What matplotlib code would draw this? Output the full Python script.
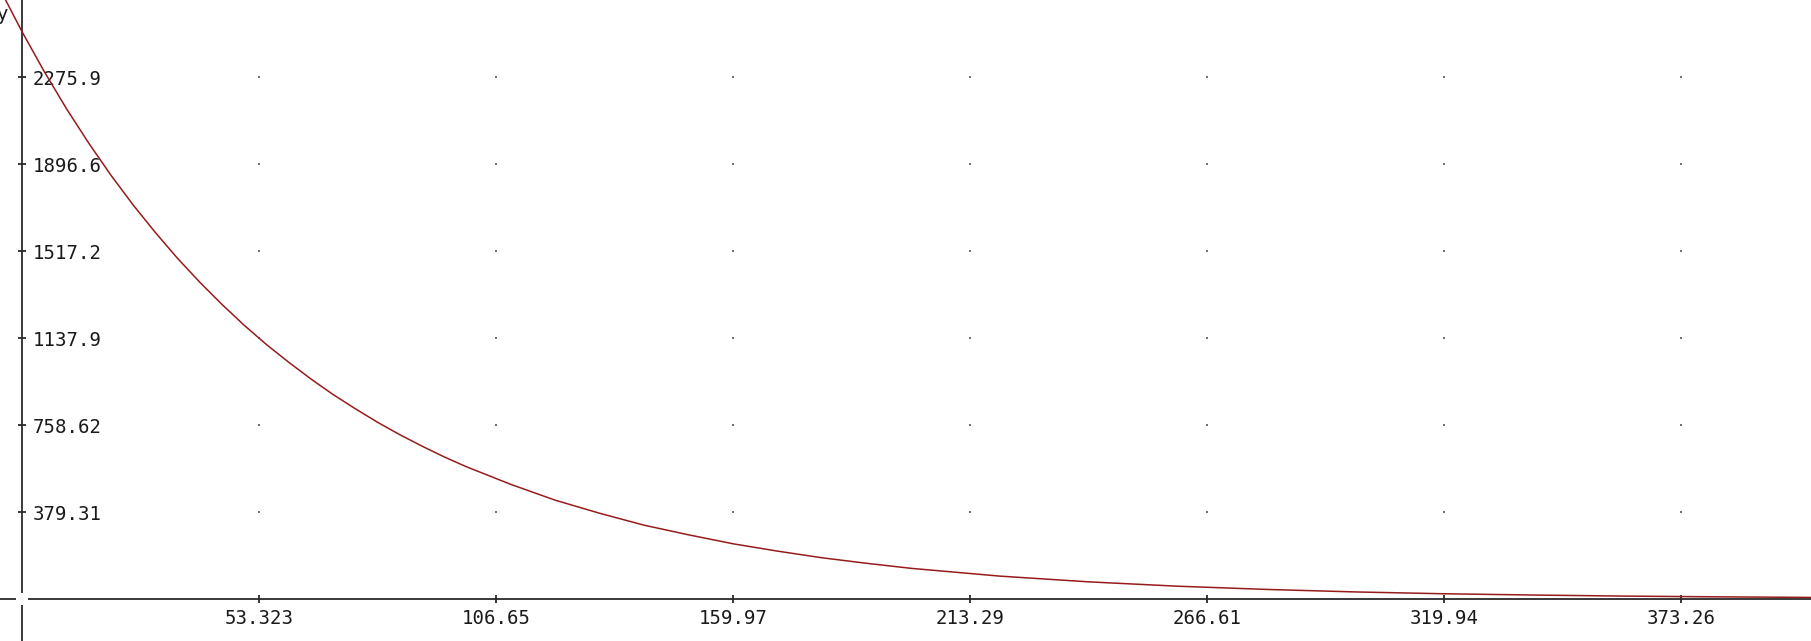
import numpy as np
import matplotlib
matplotlib.use("Agg")
import matplotlib.pyplot as plt

# Curve samples
x_vals = [-5, 0, 5, 10, 15, 20, 25, 30, 35, 40, 45, 50, 55, 60, 65, 70, 75, 80, 85, 90,
          95, 100, 110, 120, 130, 140, 150, 160, 170, 180, 190, 200, 220, 240, 260, 280,
          300, 320, 340, 360, 380, 403]
y_vals = [2662, 2475, 2301, 2139, 1989, 1849, 1719, 1599, 1486, 1382, 1285, 1194, 1110,
          1033, 960, 892, 830, 771, 717, 667, 620, 577, 500, 431, 374, 322, 280, 241, 209,
          180, 156, 134, 100, 75, 56, 42, 31, 23, 17.5, 13, 9.8, 7]

x_ticks = [53.323, 106.65, 159.97, 213.29, 266.61, 319.94, 373.26]
x_labels = ["53.323", "106.65", "159.97", "213.29", "266.61", "319.94", "373.26"]
y_ticks = [379.31, 758.62, 1137.9, 1517.2, 1896.6, 2275.9]
y_labels = ["379.31", "758.62", "1137.9", "1517.2", "1896.6", "2275.9"]

W, H, DPI = 1811, 641, 100
fig = plt.figure(figsize=(W / DPI, H / DPI), dpi=DPI)
ax = fig.add_axes([0, 0, 1, 1])
ax.set_xlim(-4.95, 402.5)
ax.set_ylim(-183, 2613)

axis_col = "#2a2a2a"
for s in ["top", "left"]:
    ax.spines[s].set_visible(False)
ax.spines["bottom"].set_position(("data", 0))
ax.spines["right"].set_position(("data", 0))
for s in ["bottom", "right"]:
    ax.spines[s].set_color(axis_col)
    ax.spines[s].set_linewidth(1.3)
    ax.spines[s].set_zorder(2)

mono = "DejaVu Sans Mono"
ax.set_xticks(x_ticks)
ax.set_xticklabels(x_labels, family=mono, fontsize=13.7, color="#1a1a1a")
ax.set_yticks(y_ticks)
ax.yaxis.tick_right()
ax.set_yticklabels(y_labels, family=mono, fontsize=13.7, color="#1a1a1a")
ax.tick_params(axis="x", direction="inout", length=6, width=1.3, color=axis_col, pad=4)
ax.tick_params(axis="y", direction="inout", length=6, width=1.3, color=axis_col, pad=5)

# grid dots at tick intersections
gx, gy = np.meshgrid(x_ticks, y_ticks)
ax.scatter(gx.ravel(), gy.ravel(), s=1.5, marker="s", color="#707070", linewidths=0, zorder=1)

ax.plot(x_vals, y_vals, color="#961c1c", lw=1.1, zorder=3, clip_on=True)

# white gap at the origin
ax.plot([0], [0], marker="s", markersize=8, color="white", markeredgewidth=0, zorder=5, clip_on=False)

fig.text(8 / W, 1 - 20 / H, "y", ha="right", va="baseline", family="DejaVu Sans",
         fontsize=13.7, color="#1a1a1a")

fig.savefig("out.png", dpi=DPI, facecolor="white")
